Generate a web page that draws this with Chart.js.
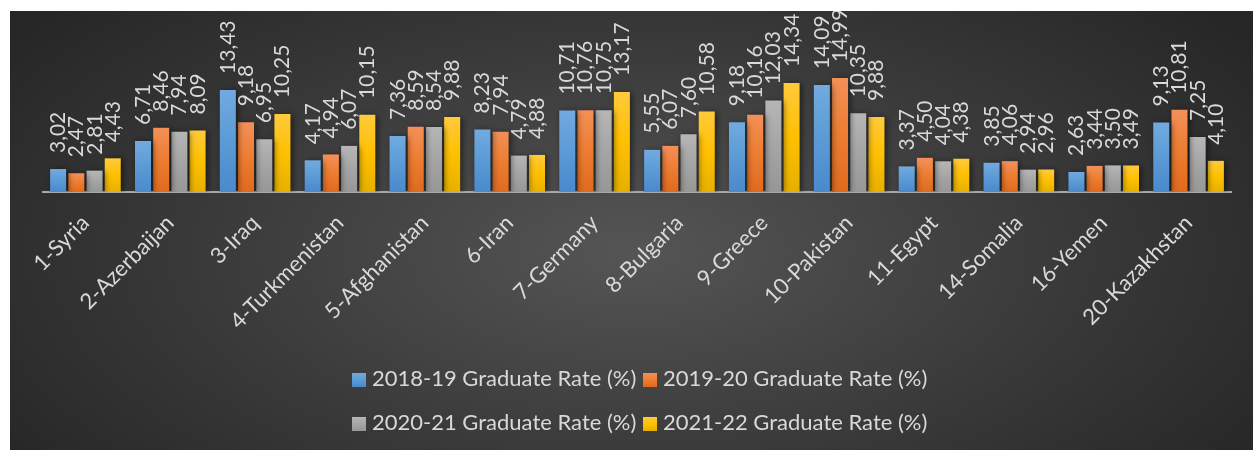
<!DOCTYPE html>
<html>
<head>
<meta charset="utf-8">
<script src="https://cdn.jsdelivr.net/npm/chart.js@4.4.1/dist/chart.umd.min.js"></script>
<style>
  html, body { margin: 0; padding: 0; background: #ffffff; }
  body { width: 1253px; height: 450px; position: relative; overflow: hidden; }
  #wrap {
    position: absolute; left: 10px; top: 11px; width: 1243px; height: 439px;
    background: radial-gradient(ellipse 62% 85% at 50% 55%, #555555 0%, #3a3a3a 55%, #262626 100%);
  }
  #c { position: absolute; left: 0; top: 0; }
  .leg { position: absolute; font-family: Lato, sans-serif; font-size: 22px; color: #d9d9d9; white-space: nowrap; line-height: 26px; }
  .leg span.box { display: inline-block; width: 14px; height: 14px; margin-right: 6px; vertical-align: -1px; }
</style>
</head>
<body>
<div id="wrap"><canvas id="c" width="1243" height="439"></canvas></div>
<script>
const categories = ['1-Syria','2-Azerbaijan','3-Iraq','4-Turkmenistan','5-Afghanistan','6-Iran','7-Germany','8-Bulgaria','9-Greece','10-Pakistan','11-Egypt','14-Somalia','16-Yemen','20-Kazakhstan'];
const seriesNames = ['2018-19 Graduate Rate (%)','2019-20 Graduate Rate (%)','2020-21 Graduate Rate (%)','2021-22 Graduate Rate (%)'];
const rate1819 = [3.02,6.71,13.43,4.17,7.36,8.23,10.71,5.55,9.18,14.09,3.37,3.85,2.63,9.13];
const rate1920 = [2.47,8.46,9.18,4.94,8.59,7.94,10.76,6.07,10.16,14.99,4.50,4.06,3.44,10.81];
const rate2021 = [2.81,7.94,6.95,6.07,8.54,4.79,10.75,7.60,12.03,10.35,4.04,2.94,3.50,7.25];
const rate2122 = [4.43,8.09,10.25,10.15,9.88,4.88,13.17,10.58,14.34,9.88,4.38,2.96,3.49,4.10];
const allSeries = [rate1819, rate1920, rate2021, rate2122];

const topColors = ['#72aae0','#f39058','#b6b6b6','#ffca3c'];
const midColors = ['#5b9bd5','#ed7d31','#a5a5a5','#ffc000'];
const botColors = ['#4a89cc','#e06a1e','#979797','#e6b000'];

function barFill(di) {
  return function(c) {
    const chart = c.chart;
    const ys = chart.scales && chart.scales.y;
    if (!ys || c.parsed === undefined) return midColors[di];
    const top = ys.getPixelForValue(c.parsed.y);
    const bot = ys.getPixelForValue(0);
    if (!isFinite(top) || !isFinite(bot) || top === bot) return midColors[di];
    const g = chart.ctx.createLinearGradient(0, top, 0, bot);
    g.addColorStop(0, topColors[di]);
    g.addColorStop(0.5, midColors[di]);
    g.addColorStop(1, botColors[di]);
    return g;
  };
}

const shadowPlugin = {
  id: 'barShadow',
  beforeDatasetsDraw(chart) {
    const ctx = chart.ctx;
    ctx.save();
    ctx.shadowColor = 'rgba(0,0,0,0.55)';
    ctx.shadowBlur = 6;
    ctx.shadowOffsetX = 2;
    ctx.shadowOffsetY = 1;
  },
  afterDatasetsDraw(chart) { chart.ctx.restore(); }
};

const valueLabels = {
  id: 'valueLabels',
  afterDatasetsDraw(chart) {
    const ctx = chart.ctx;
    ctx.save();
    ctx.fillStyle = '#d9d9d9';
    ctx.font = '21px Lato';
    ctx.textAlign = 'left';
    ctx.textBaseline = 'alphabetic';
    chart.data.datasets.forEach((ds, di) => {
      chart.getDatasetMeta(di).data.forEach((bar, i) => {
        const txt = ds.data[i].toFixed(2).replace('.', ',');
        ctx.save();
        ctx.translate(bar.x + 7, bar.y - 16);
        ctx.rotate(-Math.PI / 2);
        ctx.fillText(txt, 0, 0);
        ctx.restore();
      });
    });
    ctx.restore();
  }
};

function build() {
  const datasets = allSeries.map((d, i) => ({
    label: seriesNames[i],
    data: d,
    backgroundColor: barFill(i),
    borderWidth: 0,
    categoryPercentage: 0.858,
    barPercentage: 0.88
  }));
  new Chart(document.getElementById('c'), {
    type: 'bar',
    data: { labels: categories, datasets },
    plugins: [shadowPlugin, valueLabels],
    options: {
      responsive: false,
      animation: false,
      events: [],
      layout: { padding: { left: 33, right: 22, top: 29, bottom: 0 } },
      plugins: { legend: { display: false }, tooltip: { enabled: false } },
      scales: {
        x: {
          grid: { display: false },
          border: { display: true, color: '#a8a8a8', width: 2 },
          ticks: { color: '#d9d9d9', font: { family: 'Lato', size: 22 }, minRotation: 45, maxRotation: 45, autoSkip: false, padding: 10 },
          afterFit(s) { s.height = 258; s.paddingLeft = 0; s.paddingRight = 0; }
        },
        y: { display: false, min: 0, max: 20 }
      }
    }
  });

  const wrap = document.getElementById('wrap');
  const pos = [[342, 354], [633, 354], [342, 398], [633, 398]];
  seriesNames.forEach((n, i) => {
    const d = document.createElement('div');
    d.className = 'leg';
    d.style.left = pos[i][0] + 'px';
    d.style.top = pos[i][1] + 'px';
    const b = document.createElement('span');
    b.className = 'box';
    b.style.background = 'linear-gradient(' + topColors[i] + ',' + midColors[i] + ',' + botColors[i] + ')';
    d.appendChild(b);
    d.appendChild(document.createTextNode(n));
    wrap.appendChild(d);
  });
}

if (document.fonts && document.fonts.load) {
  document.fonts.load('22px Lato').then(build, build);
} else { build(); }
</script>
</body>
</html>
